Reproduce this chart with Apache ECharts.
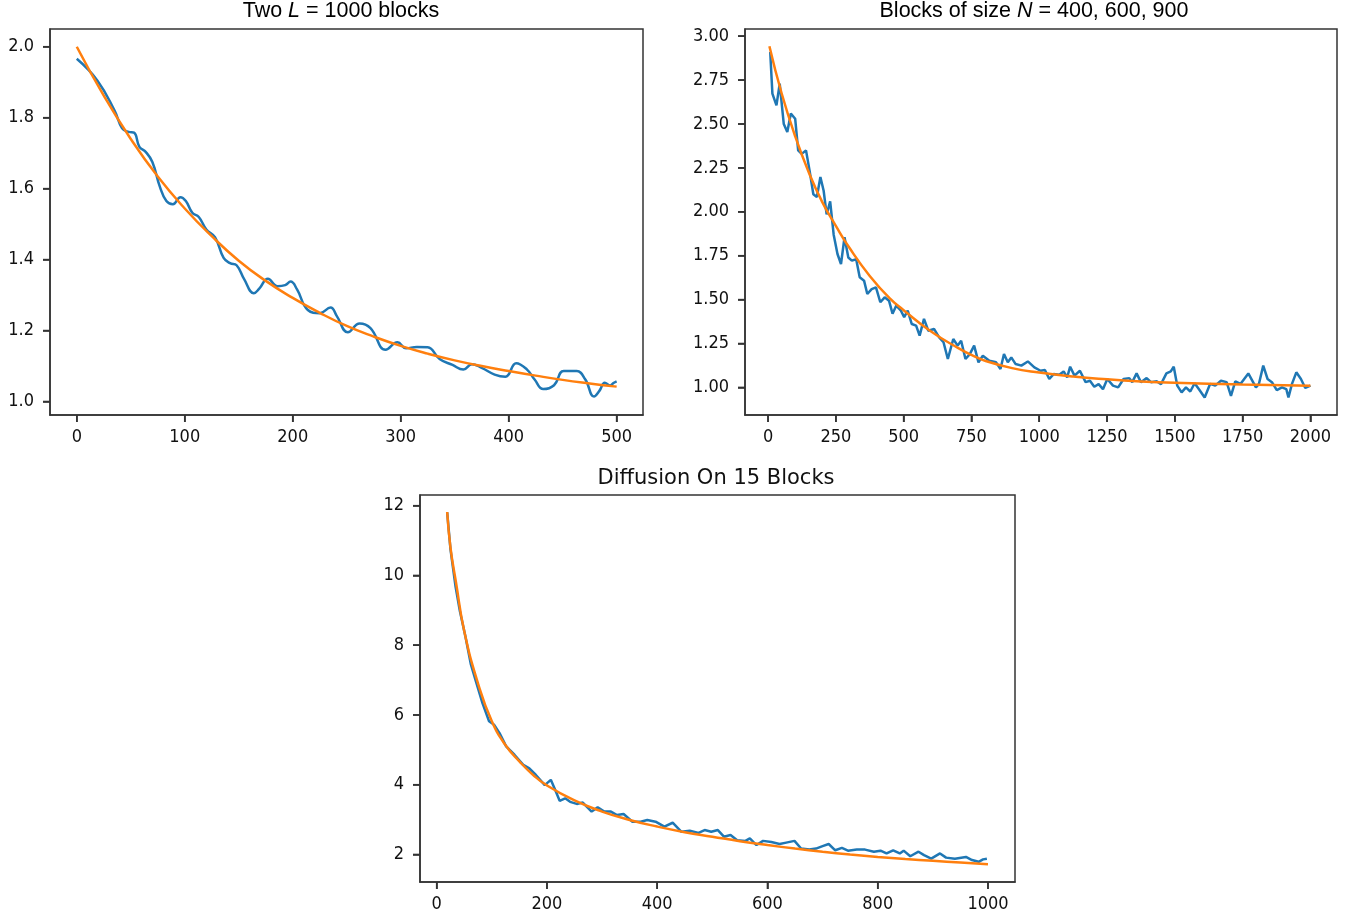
<!DOCTYPE html>
<html><head><meta charset="utf-8">
<script src="https://cdn.jsdelivr.net/npm/echarts@6.0.0/dist/echarts.min.js"></script>
<style>html,body{margin:0;padding:0;background:#fff}#c{width:1353px;height:917px}</style>
</head><body><div id="c"></div>
<script>
// ---- Panel 1: Two L = 1000 blocks ----
const t1 = [0,19,35,42,48,53,58,64,70,77,83,89,96,101,107,113,120,128,136,142,148,155,164,169,177,186,193,198,204,214,225,235,241,251,262,272,286,297,305,315,325,336,348,358,366,375,387,397,407,417,424,432,442,451,463,471,479,484,489,494,497,500];
const mean1 = [1.966,1.905,1.82,1.77,1.76,1.758,1.718,1.703,1.675,1.605,1.565,1.556,1.576,1.565,1.532,1.52,1.485,1.463,1.405,1.39,1.384,1.345,1.305,1.318,1.346,1.325,1.328,1.338,1.316,1.258,1.249,1.265,1.24,1.195,1.22,1.207,1.146,1.167,1.15,1.154,1.153,1.12,1.103,1.09,1.105,1.095,1.076,1.07,1.108,1.09,1.062,1.035,1.046,1.086,1.086,1.062,1.014,1.03,1.053,1.045,1.052,1.057];
const fitT1 = [0,25,50,75,100,125,150,175,200,225,250,275,300,325,350,375,400,425,450,475,500];
const fit1 = [2.0,1.862,1.74,1.634,1.544,1.466,1.397,1.34,1.292,1.25,1.213,1.183,1.157,1.135,1.116,1.1,1.086,1.073,1.061,1.051,1.042];
const ticksX1 = [0,100,200,300,400,500];
const ticksY1 = [1.0,1.2,1.4,1.6,1.8,2.0];

// ---- Panel 2: Blocks of size N = 400, 600, 900 ----
const t2 = [8,16,31,43,58,71,84,100,111,124,140,153,167,180,193,205,216,229,242,256,269,282,296,309,325,338,354,366,382,398,414,430,446,459,473,490,502,515,530,546,559,575,591,612,631,647,663,683,699,712,728,744,760,776,792,816,841,857,870,884,897,913,934,958,982,1005,1021,1037,1053,1074,1090,1103,1114,1130,1150,1171,1187,1203,1219,1235,1251,1272,1291,1311,1332,1343,1359,1375,1396,1412,1433,1449,1469,1485,1496,1509,1525,1541,1557,1573,1589,1610,1630,1649,1670,1691,1707,1723,1742,1771,1799,1810,1826,1842,1858,1876,1895,1911,1919,1932,1948,1965,1981,2000];
const mean2 = [2.91,2.673,2.606,2.73,2.50,2.454,2.56,2.53,2.35,2.33,2.35,2.236,2.10,2.084,2.198,2.12,1.985,2.06,1.87,1.76,1.703,1.855,1.74,1.722,1.73,1.627,1.608,1.532,1.56,1.57,1.485,1.513,1.494,1.42,1.466,1.437,1.40,1.437,1.361,1.352,1.295,1.39,1.323,1.333,1.285,1.257,1.162,1.276,1.238,1.266,1.162,1.19,1.238,1.143,1.18,1.152,1.143,1.105,1.19,1.143,1.171,1.133,1.124,1.148,1.114,1.095,1.099,1.048,1.076,1.072,1.091,1.057,1.118,1.067,1.095,1.03,1.038,1.004,1.019,0.99,1.048,1.01,1.00,1.048,1.053,1.03,1.08,1.03,1.053,1.03,1.035,1.019,1.08,1.091,1.118,1.01,0.972,1.00,0.977,1.024,0.99,0.943,1.02,1.01,1.038,1.03,0.952,1.035,1.02,1.08,1.00,1.02,1.124,1.048,1.03,0.985,1.00,0.99,0.943,1.02,1.086,1.048,0.997,1.01];
const fitT2 = [5,50,100,150,200,250,300,375,450,500,600,700,750,800,900,1000,1125,1250,1375,1500,1750,2000];
const fit2 = [2.943,2.675,2.43,2.225,2.055,1.92,1.795,1.635,1.505,1.44,1.32,1.225,1.185,1.152,1.11,1.085,1.062,1.046,1.034,1.026,1.016,1.01];
const ticksX2 = [0,250,500,750,1000,1250,1500,1750,2000];
const ticksY2 = [1.00,1.25,1.50,1.75,2.00,2.25,2.50,2.75,3.00];

// ---- Panel 3: Diffusion On 15 Blocks ----
const t3 = [19,25,34,42,52,62,71,83,95,104,114,126,141,157,168,180,196,207,215,223,233,242,254,265,281,292,304,316,327,339,355,370,382,397,413,428,444,459,475,486,498,510,521,533,545,560,568,580,592,607,622,634,649,661,676,688,700,711,723,735,746,762,777,793,805,816,828,840,847,859,874,884,897,913,924,940,960,971,983,991,998];
const mean3 = [11.81,10.75,9.70,8.98,8.26,7.45,6.97,6.34,5.82,5.72,5.48,5.10,4.86,4.57,4.47,4.28,3.99,4.14,3.85,3.54,3.61,3.51,3.45,3.49,3.23,3.35,3.23,3.23,3.13,3.16,2.94,2.94,2.99,2.94,2.80,2.91,2.65,2.68,2.62,2.70,2.65,2.70,2.51,2.56,2.41,2.39,2.46,2.27,2.39,2.36,2.30,2.34,2.39,2.17,2.14,2.17,2.24,2.30,2.12,2.19,2.11,2.14,2.14,2.08,2.11,2.03,2.12,2.03,2.11,1.95,2.08,1.98,1.88,2.03,1.91,1.88,1.93,1.84,1.79,1.86,1.88];
const fitT3 = [19,25,35,50,75,100,125,150,175,200,250,300,350,400,450,500,550,600,650,700,750,800,850,900,950,1000];
const fit3 = [11.82,10.8,9.8,8.4,6.9,5.82,5.13,4.67,4.28,3.98,3.55,3.23,2.99,2.80,2.64,2.51,2.38,2.27,2.17,2.08,2.0,1.93,1.87,1.82,1.77,1.72];
const ticksX3 = [0,200,400,600,800,1000];
const ticksY3 = [2,4,6,8,10,12];

const BLUE = '#1f77b4', ORANGE = '#ff7f0e', INK = '#333';
const LABEL_FONT = "'DejaVu Sans Condensed','DejaVu Sans',sans-serif";
const TICK_LEN = 7;
function pairs(xs, ys) { return xs.map((x, i) => [x, ys[i]]); }

function axisCfg(gridIndex, min, max, ticks, fmt, isY) {
  return {
    type: 'value', gridIndex, min, max,
    axisLine: { show: true, onZero: false, lineStyle: { color: INK, width: 1.5 } },
    splitLine: { show: false },
    axisTick: { show: true, inside: false, length: TICK_LEN, customValues: ticks, lineStyle: { color: INK, width: 1.6 } },
    axisLabel: { customValues: ticks, formatter: fmt, fontFamily: LABEL_FONT, fontSize: 18, color: '#111', margin: isY ? 16 : 13 }
  };
}
function lineSeries(idx, xs, ys, color, smooth, z) {
  return {
    type: 'line', xAxisIndex: idx, yAxisIndex: idx, data: pairs(xs, ys),
    showSymbol: false, symbol: 'none', smooth: smooth, z: z,
    lineStyle: { color, width: 2.5 }, itemStyle: { color }
  };
}
const gridStyle = { show: true, borderColor: INK, borderWidth: 1.5, backgroundColor: 'transparent' };
const titleRich = {
  a: { fontFamily: 'Liberation Sans', fontSize: 21.5, color: '#111' },
  i: { fontFamily: 'Liberation Sans', fontStyle: 'italic', fontSize: 21.5, color: '#111' }
};
const X1 = [-24.8, 524.4], Y1 = [0.962, 2.05];
const X2 = [-85, 2098], Y2 = [0.843, 3.041];
const X3 = [-30.3, 1049], Y3 = [1.211, 12.307];

const titles = [
  { type: 'text', x: 341, y: 11, style: {
      text: '{a|Two }{i|L}{a| = 1000 blocks}', textAlign: 'center', textVerticalAlign: 'middle', align: 'center', verticalAlign: 'middle',
      rich: titleRich } },
  { type: 'text', x: 1034, y: 11, style: {
      text: '{a|Blocks of size }{i|N}{a| = 400, 600, 900}', textAlign: 'center', textVerticalAlign: 'middle', align: 'center', verticalAlign: 'middle',
      rich: titleRich } },
  { type: 'text', x: 716, y: 479, style: {
      text: 'Diffusion On 15 Blocks', textAlign: 'center', textVerticalAlign: 'middle', align: 'center', verticalAlign: 'middle',
      font: "21px 'DejaVu Sans'", fill: '#111' } }
];

function buildOption(graphicEls) {
  return {
    backgroundColor: '#fff',
    animation: false,
    grid: [
      Object.assign({ left: 50, top: 29, width: 593, height: 386 }, gridStyle),
      Object.assign({ left: 745, top: 29, width: 592, height: 386 }, gridStyle),
      Object.assign({ left: 420, top: 495, width: 595, height: 387 }, gridStyle)
    ],
    xAxis: [
      axisCfg(0, X1[0], X1[1], ticksX1, v => String(v), false),
      axisCfg(1, X2[0], X2[1], ticksX2, v => String(v), false),
      axisCfg(2, X3[0], X3[1], ticksX3, v => String(v), false)
    ],
    yAxis: [
      axisCfg(0, Y1[0], Y1[1], ticksY1, v => v.toFixed(1), true),
      axisCfg(1, Y2[0], Y2[1], ticksY2, v => v.toFixed(2), true),
      axisCfg(2, Y3[0], Y3[1], ticksY3, v => String(v), true)
    ],
    series: [
      lineSeries(0, t1, mean1, BLUE, 0.45, 2),
      lineSeries(0, fitT1, fit1, ORANGE, true, 3),
      lineSeries(1, t2, mean2, BLUE, false, 2),
      lineSeries(1, fitT2, fit2, ORANGE, true, 3),
      lineSeries(2, t3, mean3, BLUE, false, 2),
      lineSeries(2, fitT3, fit3, ORANGE, true, 3)
    ],
    graphic: graphicEls
  };
}

const chart = echarts.init(document.getElementById('c'), null, { renderer: 'canvas' });
chart.setOption(buildOption([]));

// Outward tick marks, positioned through each panel's own axis scales (convertToPixel)
function tickMarks(panel, xTicks, yTicks, xMin, yMin) {
  const out = [];
  const finder = { seriesIndex: panel * 2 };
  xTicks.forEach(v => {
    const p = chart.convertToPixel(finder, [v, yMin]);
    if (!p || !isFinite(p[0])) return;
    out.push({ type: 'line', silent: true, z: 100,
      shape: { x1: p[0], y1: p[1], x2: p[0], y2: p[1] + TICK_LEN },
      style: { stroke: INK, lineWidth: 1.6 } });
  });
  yTicks.forEach(v => {
    const p = chart.convertToPixel(finder, [xMin, v]);
    if (!p || !isFinite(p[0])) return;
    out.push({ type: 'line', silent: true, z: 100,
      shape: { x1: p[0] - TICK_LEN, y1: p[1], x2: p[0], y2: p[1] },
      style: { stroke: INK, lineWidth: 1.6 } });
  });
  return out;
}
let ticks = [];
try {
  ticks = tickMarks(0, ticksX1, ticksY1, X1[0], Y1[0])
    .concat(tickMarks(1, ticksX2, ticksY2, X2[0], Y2[0]))
    .concat(tickMarks(2, ticksX3, ticksY3, X3[0], Y3[0]));
} catch (e) { ticks = []; }
// Rebuild the whole chart once, with titles and tick marks created together
chart.setOption(buildOption(titles.concat(ticks)), true);
</script>
</body></html>
